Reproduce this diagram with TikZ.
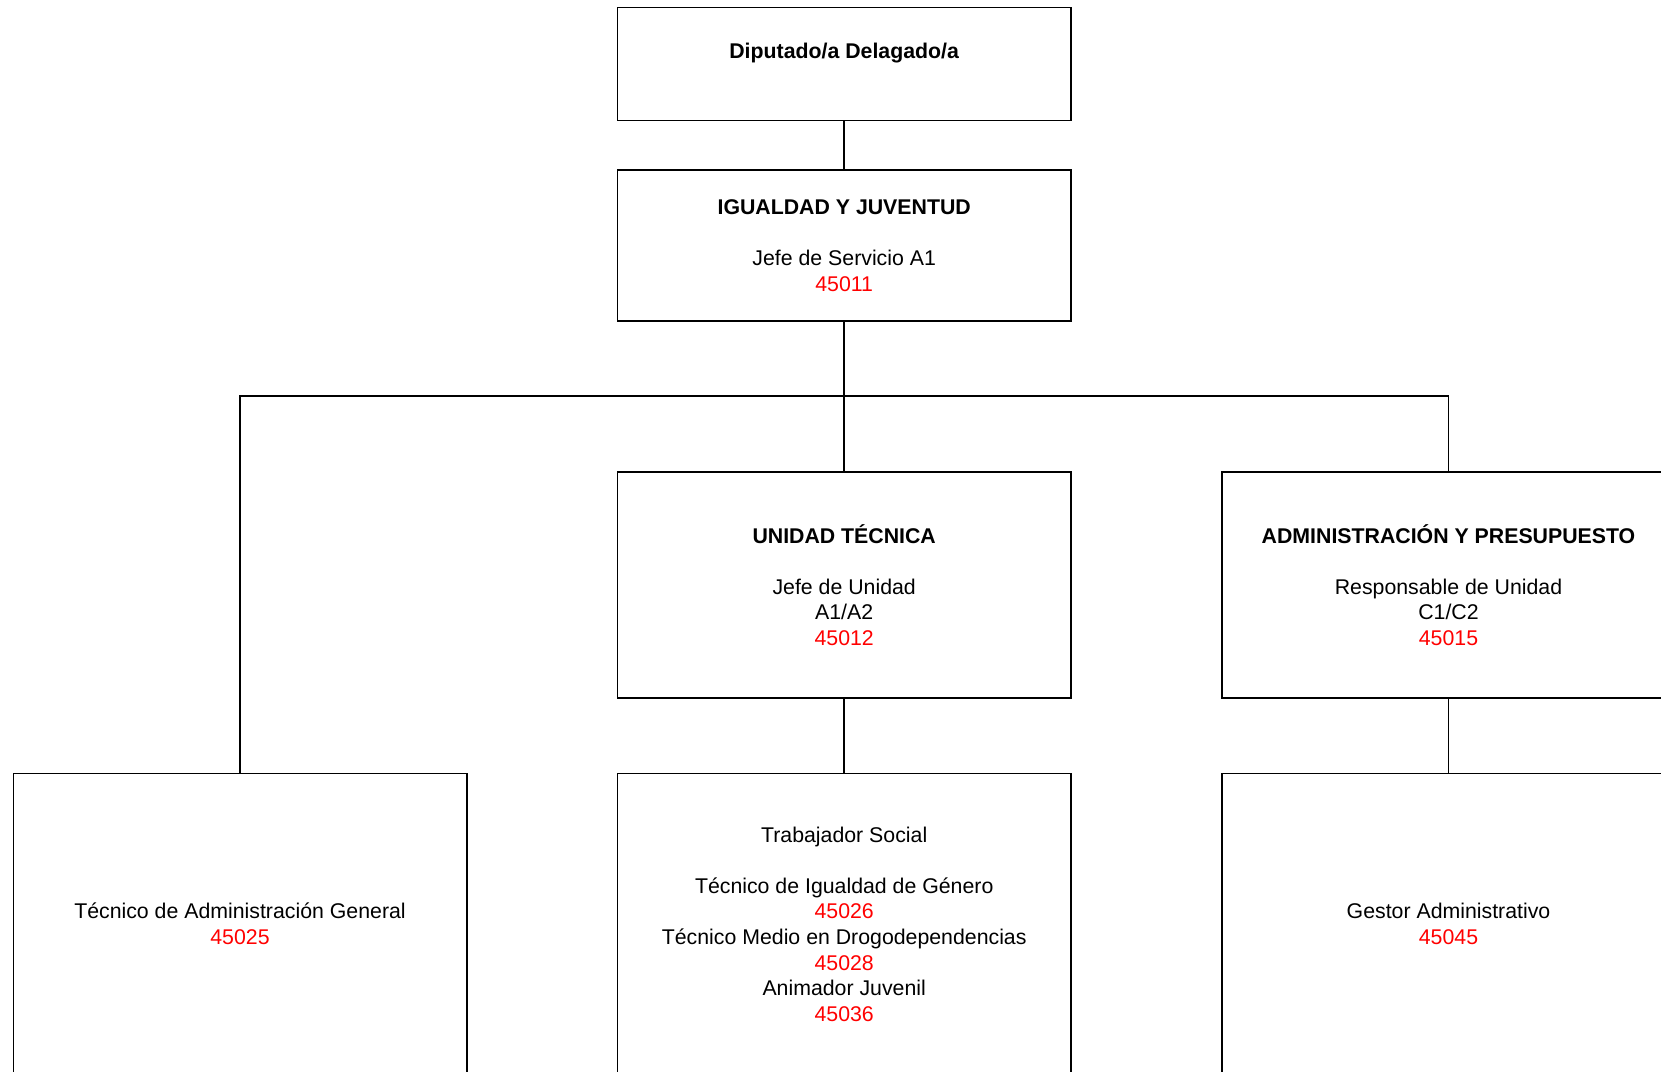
\documentclass[tikz,border=0pt]{standalone}
\usepackage{fontspec}
\setmainfont{Liberation Sans}
\begin{document}
\begin{tikzpicture}[x=1pt,y=-1pt,
  box/.style={draw=black, line width=1.5pt, rectangle, inner sep=0pt,
    minimum width=453.5pt, align=center,
    font=\fontsize{21.3}{25.6}\selectfont},
  conn/.style={draw=black, line width=1.5pt},
  code/.style={}]
\useasboundingbox (0,0) rectangle (1661,1071);
\clip (0,0) rectangle (1661,1071);
\fill[white] (0,0) rectangle (1661,1071);
\newcommand{\cod}[1]{\textcolor{red}{#1}}
\node[box, minimum height=113.4pt] (dip) at (844.2,64)
  {\textbf{Diputado/a Delagado/a}\\ \mbox{}};
\node[box, minimum height=150.7pt] (igu) at (844.2,245.4)
  {\textbf{IGUALDAD Y JUVENTUD}\\[25.6pt] Jefe de Servicio A1\\ \cod{45011}};
\node[box, minimum height=226.3pt] (uni) at (844.2,584.9)
  {\textbf{UNIDAD TÉCNICA}\\[25.6pt] Jefe de Unidad\\ A1/A2\\ \cod{45012}};
\node[box, minimum height=226.3pt] (adm) at (1448.5,584.9)
  {\textbf{ADMINISTRACIÓN Y PRESUPUESTO}\\[25.6pt] Responsable de Unidad\\ C1/C2\\ \cod{45015}};
\node[box, minimum height=301pt] (tag) at (240,924)
  {Técnico de Administración General\\ \cod{45025}};
\node[box, minimum height=301pt] (tra) at (844.2,924)
  {Trabajador Social\\[25.6pt] Técnico de Igualdad de Género\\ \cod{45026}\\ Técnico Medio en Drogodependencias\\ \cod{45028}\\ Animador Juvenil\\ \cod{45036}};
\node[box, minimum height=301pt] (ges) at (1448.5,924)
  {Gestor Administrativo\\ \cod{45045}};
\coordinate (j) at (844.2,396);
\draw[conn] (dip.south) -- (igu.north);
\draw[conn] (igu.south) -- (j);
\draw[conn] (tag.north) |- (j) -| (adm.north);
\draw[conn] (j) -- (uni.north);
\draw[conn] (uni.south) -- (tra.north);
\draw[conn] (adm.south) -- (ges.north);
\end{tikzpicture}
\end{document}
